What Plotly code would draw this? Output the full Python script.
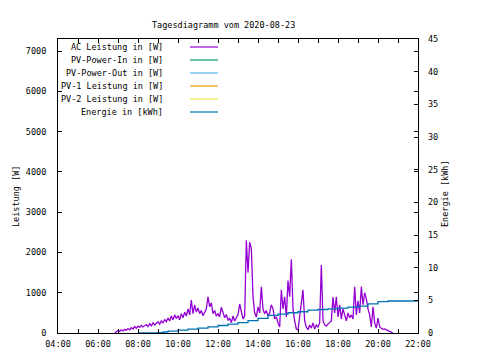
import pandas as pd
import plotly.graph_objects as go

# ---------------- data ----------------
ac_start = "2020-08-23 06:50"
ac_w = [0, 20,
        60, 40, 80, 50, 90, 70, 110, 80, 130, 100, 160, 120,
        170, 140, 190, 150, 170, 210, 160, 230, 180, 250, 200, 230,
        280, 220, 300, 250, 330, 280, 370, 300, 420, 330, 450, 360,
        430, 330, 480, 380, 520, 420, 600, 450, 820, 480, 700, 520,
        620, 480, 560, 430, 520, 600, 900, 650, 750, 480, 560, 420,
        480, 400, 640, 520, 380, 460, 320, 360, 260, 420, 300, 380,
        450, 720, 500, 350, 420, 2300, 1500, 2250, 2100, 900, 500, 400,
        650, 500, 1150, 600, 480, 560, 420, 500, 700, 600, 350, 400,
        250, 150, 1070, 600, 900, 400, 1300, 900, 1830, 600, 300, 100,
        80, 400, 700, 1070, 300, 150, 80, 200, 120, 250, 100, 200,
        150, 250, 1690, 300, 200, 170, 220, 260, 300, 890, 500, 900,
        400, 700, 350, 600, 420, 300, 500, 380, 450, 350, 1150, 450,
        800, 500, 1150, 700, 1000, 850, 600, 450, 150, 650, 250, 120,
        370, 150, 120, 90, 100, 70, 60, 40, 20, 0]

energy_times = ["08:00", "08:30", "09:00", "09:15", "09:30", "10:00", "10:30", "11:00",
                "11:30", "12:00", "12:30", "13:00", "13:30", "14:00", "14:30", "15:00",
                "15:30", "16:00", "16:30", "17:00", "17:30", "18:00", "18:30", "19:00",
                "19:30", "20:00", "20:30", "22:00"]
energy_kwh = [0.0, 0.0, 0.05, 0.15, 0.3, 0.45, 0.6, 0.75,
              0.95, 1.15, 1.35, 1.6, 1.9, 2.25, 2.7, 2.9,
              3.1, 3.25, 3.5, 3.6, 3.7, 3.8, 3.95, 4.1,
              4.45, 4.8, 4.9, 4.9]

series_names = ["AC Leistung in [W]", "PV-Power-In in [W]", "PV-Power-Out in [W]",
                "PV-1 Leistung in [W]", "PV-2 Leistung in [W]", "Energie in [kWh]"]
series_colors = ["#9400d3", "#009e73", "#56b4e9", "#e69f00", "#f0e442", "#0072b2"]

x_ticks = ["04:00", "05:00", "06:00", "07:00", "08:00", "09:00", "10:00", "11:00", "12:00",
           "13:00", "14:00", "15:00", "16:00", "17:00", "18:00", "19:00", "20:00",
           "21:00", "22:00"]
y1_ticks = [0, 1000, 2000, 3000, 4000, 5000, 6000, 7000]
y2_ticks = [0, 5, 10, 15, 20, 25, 30, 35, 40, 45]

day = "2020-08-23 "
ac_times = pd.date_range(ac_start, periods=len(ac_w), freq="5min")
e_times = [pd.Timestamp(day + t) for t in energy_times]
tick_vals = [pd.Timestamp(day + t) for t in x_ticks]
tick_text = [t if i % 2 == 0 else "" for i, t in enumerate(x_ticks)]

FONT = "DejaVu Sans Mono"
fig = go.Figure()
fig.add_trace(go.Scatter(x=ac_times, y=ac_w, mode="lines", name=series_names[0],
                         line=dict(color=series_colors[0], width=1.3)))
for n, c in zip(series_names[1:5], series_colors[1:5]):
    fig.add_trace(go.Scatter(x=[], y=[], mode="lines", name=n, line=dict(color=c, width=1)))
fig.add_trace(go.Scatter(x=e_times, y=energy_kwh, mode="lines", name=series_names[5],
                         line=dict(color=series_colors[5], width=1.3, shape="hv"),
                         yaxis="y2"))

# plot area in pixels: left 58, right 418, top 39, bottom 333
L, R, T, B = 58, 418, 39, 333
def px(x):
    return (x - L) / (R - L)
def py(y):
    return (B - y) / (B - T)

# custom gnuplot-like legend
for i, (n, c) in enumerate(zip(series_names, series_colors)):
    yy = 47 + i * 13
    fig.add_annotation(x=px(165), y=py(yy), xref="paper", yref="paper", text=n,
                       showarrow=False, xanchor="right", yanchor="middle",
                       font=dict(family=FONT, size=8.5, color="black"))
    fig.add_shape(type="line", xref="paper", yref="paper", x0=px(190), x1=px(218),
                  y0=py(yy), y1=py(yy), line=dict(color=c, width=1.2))

fig.add_annotation(x=px(9), y=py(197), xref="paper", yref="paper", text="Leistung [W]",
                   showarrow=False, textangle=-90, font=dict(family=FONT, size=8.5, color="black"))
fig.add_annotation(x=px(452), y=py(194), xref="paper", yref="paper", text="Energie [kWh]",
                   showarrow=False, textangle=-90, font=dict(family=FONT, size=8.5, color="black"))
fig.add_annotation(x=px(223), y=py(18), xref="paper", yref="paper",
                   text="Tagesdiagramm vom 2020-08-23",
                   showarrow=False, font=dict(family=FONT, size=8.5, color="black"))

fig.update_layout(
    width=480, height=360,
    margin=dict(l=L, r=480 - R, t=T, b=360 - B, pad=0),
    paper_bgcolor="white", plot_bgcolor="white",
    showlegend=False,
    font=dict(family=FONT, size=8.5, color="black"),
    xaxis=dict(range=[pd.Timestamp(day + "04:00"), pd.Timestamp(day + "22:00")],
               tickvals=tick_vals, ticktext=tick_text, ticks="inside", ticklen=4,
               tickcolor="black", showline=True, linecolor="black", linewidth=1,
               mirror="ticks", showgrid=False, zeroline=False, ticklabelstandoff=3),
    yaxis=dict(range=[0, 7300], tickvals=y1_ticks, ticks="inside", ticklen=4,
               tickcolor="black", showline=True, linecolor="black", linewidth=1,
               mirror="ticks", showgrid=False, zeroline=False, ticklabelstandoff=9),
    yaxis2=dict(range=[0, 45], tickvals=y2_ticks, ticks="inside", ticklen=4,
                tickcolor="black", overlaying="y", side="right", showline=False,
                showgrid=False, zeroline=False, ticklabelstandoff=9),
)

fig.write_html("out.html", config={"displayModeBar": False},
               post_script="document.body.style.margin='0';")
